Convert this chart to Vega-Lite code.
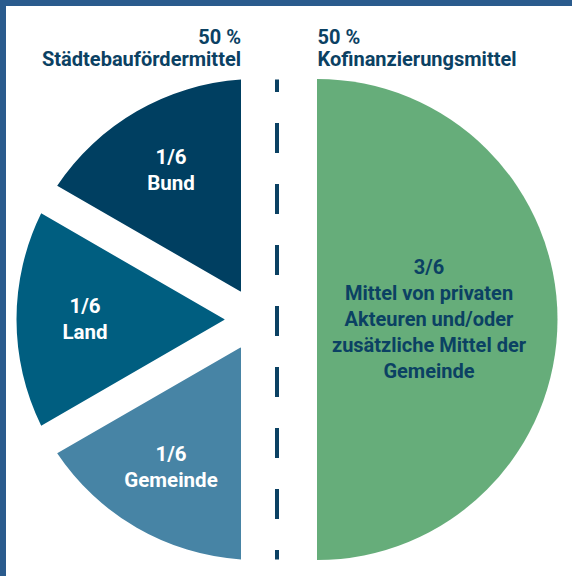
{
  "$schema": "https://vega.github.io/schema/vega-lite/v6.json",
  "autosize": "none",
  "padding": {"left": 3, "top": 3, "right": 0, "bottom": 0},
  "width": 600,
  "height": 633,
  "background": "white",
  "config": {
    "view": {"stroke": "#2a5b8d", "strokeWidth": 6},
    "text": {"font": "Roboto", "fontWeight": "bold"}
  },
  "datasets": {
    "anteile": [
      {"seite": "Städtebauförderung", "segment": "Gemeinde", "anteil": 1, "rang": 1, "label": "1/6\nGemeinde"},
      {"seite": "Städtebauförderung", "segment": "Land", "anteil": 1, "rang": 2, "label": "1/6\nLand"},
      {"seite": "Städtebauförderung", "segment": "Bund", "anteil": 1, "rang": 3, "label": "1/6\nBund"},
      {"seite": "Kofinanzierung", "segment": "Private und Gemeinde", "anteil": 3, "rang": 4, "label": "3/6\nMittel von privaten\nAkteuren und/oder\nzusätzliche Mittel der\nGemeinde"}
    ],
    "titel": [
      {"seite": "Städtebauförderung", "titel": "50 %\nStädtebaufördermittel"},
      {"seite": "Kofinanzierung", "titel": "50 %\nKofinanzierungsmittel"}
    ],
    "trennlinie": [{"linie": "Trennung"}]
  },
  "resolve": {"scale": {"theta": "independent"}},
  "layer": [
    {
      "data": {"name": "anteile"},
      "transform": [{"filter": "datum.seite === 'Städtebauförderung'"}],
      "encoding": {
        "x": {"datum": -0.083333, "type": "quantitative", "scale": {"domain": [-1.141667, 1.358333], "nice": false, "zero": false}, "axis": null},
        "y": {"datum": 0, "type": "quantitative", "scale": {"domain": [-1.31875, 1.31875], "nice": false, "zero": false}, "axis": null},
        "theta": {"field": "anteil", "type": "quantitative", "stack": true, "scale": {"domain": [0, 3], "range": [3.14159265, 6.28318531]}},
        "order": {"field": "rang", "type": "quantitative"},
        "detail": {"field": "segment", "type": "nominal"}
      },
      "layer": [
        {
          "mark": {"type": "arc", "outerRadius": 240.5, "innerRadius": 32.5, "padAngle": 0.13195},
          "encoding": {
            "color": {"field": "segment", "type": "nominal", "scale": {"domain": ["Bund", "Land", "Gemeinde"], "range": ["#003f61", "#005e80", "#4784a5"]}, "legend": null}
          }
        },
        {
          "mark": {"type": "text", "radius": 172, "dy": -13, "fontSize": 20.5, "color": "white", "lineHeight": 26, "lineBreak": "\n", "align": "center", "baseline": "middle"},
          "encoding": {"text": {"field": "label", "type": "nominal"}}
        }
      ]
    },
    {
      "data": {"name": "anteile"},
      "transform": [{"filter": "datum.seite === 'Kofinanzierung'"}],
      "encoding": {
        "x": {"datum": 0.166667, "type": "quantitative", "scale": {"domain": [-1.141667, 1.358333], "nice": false, "zero": false}, "axis": null},
        "y": {"datum": 0, "type": "quantitative", "scale": {"domain": [-1.31875, 1.31875], "nice": false, "zero": false}, "axis": null},
        "theta": {"field": "anteil", "type": "quantitative", "stack": true, "scale": {"domain": [0, 6]}},
        "order": {"field": "rang", "type": "quantitative"},
        "detail": {"field": "segment", "type": "nominal"}
      },
      "layer": [
        {
          "mark": {"type": "arc", "outerRadius": 240.5, "fill": "#66ad7a"}
        },
        {
          "mark": {"type": "text", "radius": 112, "dy": -52, "fontSize": 20, "color": "#0b4163", "lineHeight": 26, "lineBreak": "\n", "align": "center", "baseline": "middle"},
          "encoding": {"text": {"field": "label", "type": "nominal"}}
        }
      ]
    },
    {
      "data": {"name": "trennlinie"},
      "mark": {"type": "rule", "color": "#0b4163", "strokeWidth": 4, "strokeDash": [30, 31], "strokeDashOffset": 17.5, "strokeCap": "butt"},
      "encoding": {
        "x": {"datum": 0, "type": "quantitative", "scale": {"domain": [-1.141667, 1.358333], "nice": false, "zero": false}, "axis": null},
        "y": {"datum": 1, "type": "quantitative", "scale": {"domain": [-1.31875, 1.31875], "nice": false, "zero": false}, "axis": null},
        "y2": {"datum": -1}
      }
    },
    {
      "data": {"name": "titel"},
      "transform": [{"filter": "datum.seite === 'Städtebauförderung'"}],
      "mark": {"type": "text", "fontSize": 20, "color": "#0b4163", "lineHeight": 22, "lineBreak": "\n", "align": "right", "baseline": "alphabetic"},
      "encoding": {
        "x": {"datum": -0.15, "type": "quantitative", "scale": {"domain": [-1.141667, 1.358333], "nice": false, "zero": false}, "axis": null},
        "y": {"datum": 1.1471, "type": "quantitative", "scale": {"domain": [-1.31875, 1.31875], "nice": false, "zero": false}, "axis": null},
        "text": {"field": "titel", "type": "nominal"}
      }
    },
    {
      "data": {"name": "titel"},
      "transform": [{"filter": "datum.seite === 'Kofinanzierung'"}],
      "mark": {"type": "text", "fontSize": 20, "color": "#0b4163", "lineHeight": 22, "lineBreak": "\n", "align": "left", "baseline": "alphabetic"},
      "encoding": {
        "x": {"datum": 0.16875, "type": "quantitative", "scale": {"domain": [-1.141667, 1.358333], "nice": false, "zero": false}, "axis": null},
        "y": {"datum": 1.1471, "type": "quantitative", "scale": {"domain": [-1.31875, 1.31875], "nice": false, "zero": false}, "axis": null},
        "text": {"field": "titel", "type": "nominal"}
      }
    }
  ]
}
